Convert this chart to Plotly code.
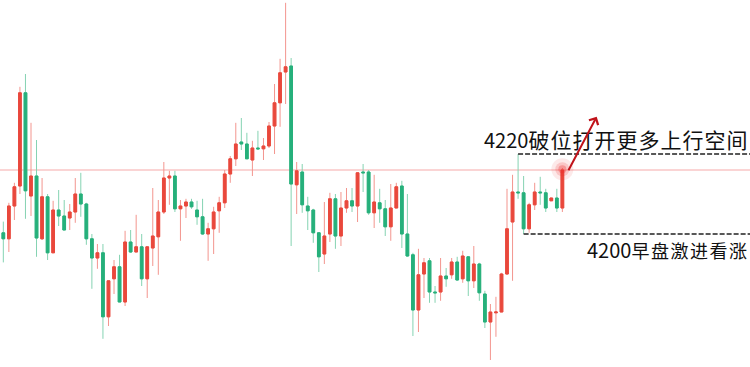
import plotly.graph_objects as go

# ---- data (price levels) ----
opens = [4200.3, 4198.8, 4207.0, 4212.0, 4235.3, 4209.5, 4214.5, 4198.8, 4209.3, 4195.3,
         4206.0, 4204.5, 4204.0, 4205.5, 4210.0, 4207.5, 4198.8, 4194.0, 4195.3, 4179.3,
         4188.8, 4191.8, 4183.0, 4198.0, 4195.5, 4196.8, 4188.8, 4196.5, 4199.3, 4205.5,
         4214.0, 4214.5, 4206.3, 4207.0, 4208.0, 4206.0, 4204.3, 4200.0, 4201.3, 4205.8,
         4207.8, 4215.0, 4218.8, 4223.0, 4222.5, 4218.5, 4221.5, 4221.3, 4222.0, 4227.0,
         4232.8, 4240.5, 4242.0, 4212.3, 4215.5, 4207.0, 4206.0, 4200.3, 4195.0, 4200.0,
         4208.8, 4199.5, 4206.5, 4208.3, 4207.0, 4215.5, 4215.5, 4205.3, 4207.8, 4206.3,
         4201.8, 4206.5, 4212.0, 4200.0, 4194.8, 4181.0, 4190.0, 4193.3, 4185.5, 4185.5,
         4189.5, 4189.8, 4193.0, 4188.8, 4194.3, 4188.3, 4192.5, 4185.0, 4178.0, 4180.3,
         4180.5, 4190.0, 4203.0, 4210.5, 4210.3, 4201.3, 4207.3, 4210.5, 4210.3, 4208.3,
         4209.0, 4206.5]
highs = [4203.1, 4207.8, 4212.8, 4236.8, 4240.0, 4227.8, 4223.5, 4214.0, 4210.0, 4208.3,
         4211.0, 4208.5, 4207.5, 4214.0, 4215.3, 4207.8, 4200.0, 4197.5, 4197.5, 4188.3,
         4193.5, 4194.8, 4200.8, 4201.0, 4204.8, 4200.0, 4196.8, 4211.5, 4208.5, 4218.0,
         4215.8, 4215.8, 4208.5, 4208.8, 4208.8, 4208.3, 4208.8, 4202.8, 4206.8, 4209.3,
         4216.0, 4219.5, 4227.8, 4229.0, 4225.3, 4223.3, 4225.8, 4224.0, 4228.0, 4237.5,
         4243.8, 4257.8, 4244.0, 4218.0, 4217.5, 4209.3, 4206.3, 4200.5, 4208.0, 4210.3,
         4210.0, 4210.5, 4211.5, 4211.5, 4215.5, 4217.5, 4216.0, 4214.8, 4211.3, 4208.5,
         4212.5, 4212.8, 4213.3, 4210.0, 4195.3, 4196.3, 4194.0, 4194.0, 4187.0, 4194.0,
         4191.5, 4194.0, 4194.3, 4195.8, 4194.5, 4197.0, 4192.8, 4185.8, 4182.5, 4184.3,
         4190.3, 4211.3, 4214.8, 4220.0, 4214.5, 4207.8, 4212.8, 4214.3, 4211.3, 4209.0,
         4211.3, 4216.5]
lows = [4192.9, 4195.5, 4203.5, 4210.0, 4203.8, 4204.5, 4194.3, 4198.5, 4193.5, 4195.3,
        4202.0, 4201.0, 4201.0, 4202.8, 4204.3, 4197.3, 4186.3, 4191.3, 4173.8, 4177.0,
        4185.0, 4183.0, 4182.0, 4195.3, 4195.5, 4187.0, 4184.0, 4192.0, 4189.8, 4205.0,
        4207.3, 4205.5, 4198.3, 4204.0, 4206.3, 4202.3, 4199.8, 4193.3, 4195.0, 4200.3,
        4206.5, 4212.8, 4217.0, 4221.0, 4218.8, 4214.5, 4221.0, 4218.5, 4221.5, 4220.0,
        4226.8, 4232.5, 4197.0, 4205.0, 4205.3, 4201.0, 4197.8, 4190.5, 4192.5, 4198.0,
        4196.3, 4197.0, 4205.3, 4205.5, 4203.0, 4210.5, 4204.8, 4201.5, 4202.8, 4199.5,
        4198.3, 4206.5, 4196.5, 4194.3, 4174.5, 4175.5, 4184.0, 4182.8, 4182.8, 4183.3,
        4186.8, 4188.8, 4188.3, 4187.8, 4184.5, 4186.5, 4183.3, 4176.5, 4168.5, 4174.3,
        4180.5, 4189.8, 4188.3, 4208.8, 4200.0, 4200.3, 4206.0, 4207.3, 4205.5, 4208.3,
        4205.5, 4205.5]
closes = [4198.8, 4207.0, 4211.8, 4235.3, 4210.8, 4214.5, 4199.0, 4209.3, 4195.3, 4206.0,
          4204.5, 4201.0, 4205.5, 4210.0, 4207.5, 4198.8, 4194.0, 4195.3, 4179.3, 4188.3,
          4191.8, 4183.0, 4198.0, 4195.5, 4196.8, 4188.8, 4196.8, 4199.5, 4205.5, 4214.0,
          4214.5, 4206.3, 4207.0, 4208.0, 4206.8, 4204.3, 4200.0, 4201.3, 4205.5, 4207.8,
          4215.0, 4218.8, 4222.5, 4222.5, 4218.8, 4221.5, 4221.3, 4222.0, 4227.0, 4232.8,
          4240.3, 4241.8, 4212.5, 4215.8, 4207.3, 4205.8, 4200.3, 4194.3, 4199.5, 4208.8,
          4199.5, 4206.5, 4208.3, 4207.0, 4215.3, 4215.3, 4205.3, 4208.0, 4206.3, 4201.8,
          4206.5, 4211.8, 4200.0, 4194.5, 4181.0, 4189.8, 4192.8, 4185.5, 4185.3, 4189.5,
          4188.8, 4193.0, 4188.5, 4194.5, 4188.3, 4192.5, 4185.3, 4178.0, 4180.5, 4180.5,
          4190.0, 4201.3, 4210.5, 4210.3, 4201.3, 4207.3, 4210.5, 4210.3, 4206.5, 4209.0,
          4206.5, 4216.0]

LEVEL_LINE = 4216.0        # thin pink horizontal line
UPPER_LEVEL = 4220.0       # dashed line 1
LOWER_LEVEL = 4200.0       # dashed line 2
UPPER_START = 93           # index of candle where upper dashed line starts
LOWER_START = 94           # index of candle where lower dashed line starts
TEXT_UP_NUM, TEXT_UP_CN = "4220", "破位打开更多上行空间"
TEXT_DN_NUM, TEXT_DN_CN = "4200", "早盘激进看涨"

x = list(range(len(opens)))
body_hi = [max(o, c) for o, c in zip(opens, closes)]
body_lo = [min(o, c) for o, c in zip(opens, closes)]

RED, GREEN = "#e9483c", "#26b07b"
RED_L, GREEN_L = "#f3958e", "#85d3b2"

fig = go.Figure()
# wicks (lighter)
fig.add_trace(go.Candlestick(
    x=x, open=opens, high=highs, low=lows, close=closes,
    increasing=dict(line=dict(color=RED_L, width=1), fillcolor=RED_L),
    decreasing=dict(line=dict(color=GREEN_L, width=1), fillcolor=GREEN_L),
    whiskerwidth=0, hoverinfo="skip"))
# bodies (solid)
fig.add_trace(go.Candlestick(
    x=x, open=opens, high=body_hi, low=body_lo, close=closes,
    increasing=dict(line=dict(color=RED, width=1), fillcolor=RED),
    decreasing=dict(line=dict(color=GREEN, width=1), fillcolor=GREEN),
    whiskerwidth=0, hoverinfo="skip"))

# glow on last candle top
for sz, op in [(22, 0.10), (14, 0.18), (8, 0.3)]:
    fig.add_trace(go.Scatter(x=[x[-1]], y=[highs[-1] - 0.3], mode="markers",
                             marker=dict(size=sz, color=f"rgba(240,40,40,{op})", line=dict(width=0)),
                             hoverinfo="skip"))

XMIN, XMAX = -0.6, 134.9
fig.add_shape(type="line", xref="x", yref="y", x0=XMIN, x1=XMAX, y0=LEVEL_LINE, y1=LEVEL_LINE,
              line=dict(color="#f6a9a9", width=1), layer="below")
fig.add_shape(type="line", xref="x", yref="y", x0=x[UPPER_START], x1=XMAX, y0=UPPER_LEVEL, y1=UPPER_LEVEL,
              line=dict(color="#222222", width=1.5, dash="5px,2px"))
fig.add_shape(type="line", xref="x", yref="y", x0=x[LOWER_START], x1=XMAX, y0=LOWER_LEVEL, y1=LOWER_LEVEL,
              line=dict(color="#222222", width=1.5, dash="5px,2px"))

fig.add_annotation(xref="paper", yref="paper", x=482/750, y=1-139/367, xanchor="left", yanchor="middle",
                   showarrow=False,
                   text=f"<span style='font-size:20px'>{TEXT_UP_NUM}</span>"
                        f"<span style='font-size:21px;letter-spacing:1px'>{TEXT_UP_CN}</span>",
                   font=dict(family="Noto Sans CJK SC", size=20, color="#111111"))
fig.add_annotation(xref="paper", yref="paper", x=585/750, y=1-250/367, xanchor="left", yanchor="middle",
                   showarrow=False,
                   text=f"<span style='font-size:20px'>{TEXT_DN_NUM}</span>"
                        f"<span style='font-size:18px;letter-spacing:1.5px'>{TEXT_DN_CN}</span>",
                   font=dict(family="Noto Sans CJK SC", size=20, color="#111111"))
# red arrow
fig.add_annotation(xref="paper", yref="paper", x=596.7/750, y=1-116.7/367, ax=-29, ay=55,
                   axref="pixel", ayref="pixel", showarrow=True, arrowhead=4, arrowsize=1,
                   arrowwidth=2, arrowcolor="#c0131a", text="")

fig.update_layout(
    width=750, height=367, margin=dict(l=0, r=0, t=0, b=0),
    paper_bgcolor="white", plot_bgcolor="white", showlegend=False,
    xaxis=dict(visible=False, range=[XMIN, XMAX], rangeslider=dict(visible=False)),
    yaxis=dict(visible=False, range=[4166.75, 4258.5]),
    boxgap=0.3,
)
fig.write_html("out.html")
